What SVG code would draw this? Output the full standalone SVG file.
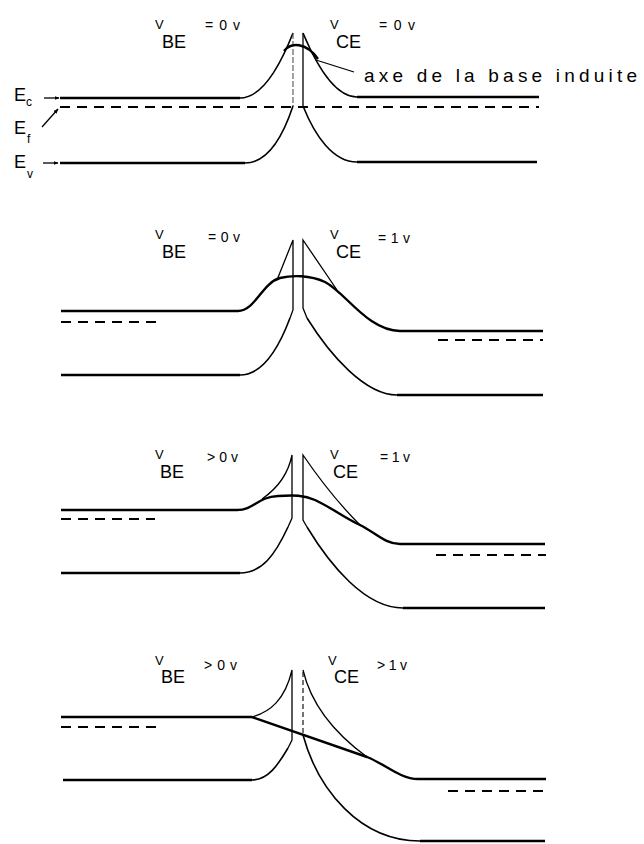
<svg xmlns="http://www.w3.org/2000/svg" width="644" height="844" viewBox="0 0 644 844">
<defs>
<style>
.flat{fill:none;stroke:#000;stroke-width:2.6}
.curve{fill:none;stroke:#000;stroke-width:1.6}
.axis{fill:none;stroke:#000;stroke-width:2.4}
.thin{fill:none;stroke:#000;stroke-width:1.3}
.faint{fill:none;stroke:#555;stroke-width:1.1;stroke-dasharray:6 2}
.vdash{fill:none;stroke:#000;stroke-width:1.1;stroke-dasharray:5 3}
.dash{fill:none;stroke:#000;stroke-width:2;stroke-dasharray:10 7}
.t{font-family:"Liberation Sans","DejaVu Sans",sans-serif;fill:#000}
.v{font-size:13px}
.sub{font-size:18px}
.val{font-size:14px}
.e{font-size:18px}
.es{font-size:12px}
</style>
<marker id="ah" viewBox="0 0 10 10" refX="9" refY="5" markerWidth="5" markerHeight="5" orient="auto" markerUnits="userSpaceOnUse">
<path d="M0,1 L10,5 L0,9 Z" fill="#000"/>
</marker>
</defs>
<rect width="644" height="844" fill="#fff"/>

<g id="panel1">
<path class="flat" d="M60,98 H240"/>
<path class="curve" d="M240,98 C262,98 280,66 293,33"/>
<path class="faint" d="M293,33 V106"/>
<path class="thin" d="M303,33 V106"/>
<path class="curve" d="M303,33 C316,64 334,97 357,97"/>
<path class="flat" d="M357,97 H539"/>
<path class="axis" d="M284,51 C291,42 306,42 318,59"/>
<path class="dash" d="M60,107 H539"/>
<path class="flat" d="M60,163 H245"/>
<path class="curve" d="M245,163 C268,163 283,136 293,106"/>
<path class="curve" d="M303,106 C315,136 333,162 357,162"/>
<path class="flat" d="M357,162 H537"/>
<text class="t v" x="155" y="29">V</text>
<text class="t sub" x="162" y="48">BE</text>
<text class="t val" x="205" y="30" textLength="35" lengthAdjust="spacing">=0v</text>
<text class="t v" x="330" y="29">V</text>
<text class="t sub" x="336" y="48">CE</text>
<text class="t val" x="379" y="30" textLength="36" lengthAdjust="spacing">=0v</text>
<text class="t" font-size="19" x="364" y="82" textLength="273" lengthAdjust="spacing">axe de la base induite</text>
<text class="t e" x="14" y="101">E</text>
<text class="t es" x="26" y="106">c</text>
<text class="t e" x="14" y="134">E</text>
<text class="t es" x="27" y="143">f</text>
<text class="t e" x="14" y="168">E</text>
<text class="t es" x="27" y="178">v</text>
</g>

<g id="panel2">
<path class="flat" d="M61,311 H238"/>
<path class="axis" d="M238,311 C255,311 262,283 280,278 C292,275 310,275 325,282 C345,292 368,331 400,331"/>
<path class="flat" d="M400,331 H543"/>
<path class="thin" d="M277,280 L293,240 V310 L290,318"/>
<path class="curve" d="M290,318 C278,350 262,375 240,375"/>
<path class="flat" d="M61,375 H240"/>
<path class="thin" d="M337,290 L303,240 V308 L307,318"/>
<path class="curve" d="M307,318 C330,355 365,395 397,395"/>
<path class="flat" d="M397,395 H543"/>
<path class="dash" d="M61,322 H160"/>
<path class="dash" d="M438,340 H543"/>
<text class="t v" x="155" y="239">V</text>
<text class="t sub" x="162" y="258">BE</text>
<text class="t val" x="208" y="242" textLength="32" lengthAdjust="spacing">=0v</text>
<text class="t v" x="330" y="239">V</text>
<text class="t sub" x="336" y="258">CE</text>
<text class="t val" x="378" y="243" textLength="32" lengthAdjust="spacing">=1v</text>
</g>

<g id="panel3">
<path class="flat" d="M61,510 H237"/>
<path class="axis" d="M237,510 C254,510 257,497 278,496 C294,495 304,495 315,500 C332,508 345,518 360,525 C376,533 385,544 400,544"/>
<path class="flat" d="M400,544 H545"/>
<path class="thin" d="M262,499 C278,488 288,475 292,455 V518 L288,527"/>
<path class="curve" d="M288,527 C275,555 262,573 240,573"/>
<path class="flat" d="M61,573 H240"/>
<path class="thin" d="M360,525 C340,505 320,480 303,455 V520 L307,527"/>
<path class="curve" d="M307,527 C330,565 365,608 403,608"/>
<path class="flat" d="M403,608 H545"/>
<path class="dash" d="M61,519 H155"/>
<path class="dash" d="M436,555 H546"/>
<text class="t v" x="155" y="459">V</text>
<text class="t sub" x="160" y="478">BE</text>
<text class="t val" x="207" y="462" textLength="31" lengthAdjust="spacing">&gt;0v</text>
<text class="t v" x="330" y="459">V</text>
<text class="t sub" x="333" y="478">CE</text>
<text class="t val" x="380" y="462" textLength="30" lengthAdjust="spacing">=1v</text>
</g>

<g id="panel4">
<path class="flat" d="M61,717 H252"/>
<path class="axis" d="M252,717 L367,757 C385,764 400,779 418,779"/>
<path class="flat" d="M418,779 H546"/>
<path class="thin" d="M252,717 C270,712 285,700 292,670 V740 L288,748"/>
<path class="curve" d="M288,748 C278,765 268,780 252,780"/>
<path class="flat" d="M63,780 H252"/>
<path class="vdash" d="M303,672 V735"/>
<path class="thin" d="M303,670 C310,700 330,730 367,757"/>
<path class="curve" d="M303,735 C318,790 360,841 420,841"/>
<path class="flat" d="M420,841 H545"/>
<path class="dash" d="M61,727 H160"/>
<path class="dash" d="M448,791 H544"/>
<text class="t v" x="155" y="665">V</text>
<text class="t sub" x="161" y="683">BE</text>
<text class="t val" x="204" y="670" textLength="33" lengthAdjust="spacing">&gt;0v</text>
<text class="t v" x="328" y="665">V</text>
<text class="t sub" x="334" y="683">CE</text>
<text class="t val" x="377" y="670" textLength="30" lengthAdjust="spacing">&gt;1v</text>
</g>

<g id="connectors">
<path class="thin" d="M44,98 L59,98" marker-end="url(#ah)"/>
<path class="thin" d="M42,127 L58,109" marker-end="url(#ah)"/>
<path class="thin" d="M43,163 L58,163" marker-end="url(#ah)"/>
<path class="thin" d="M316,60 L354,72"/>
</g>
</svg>
